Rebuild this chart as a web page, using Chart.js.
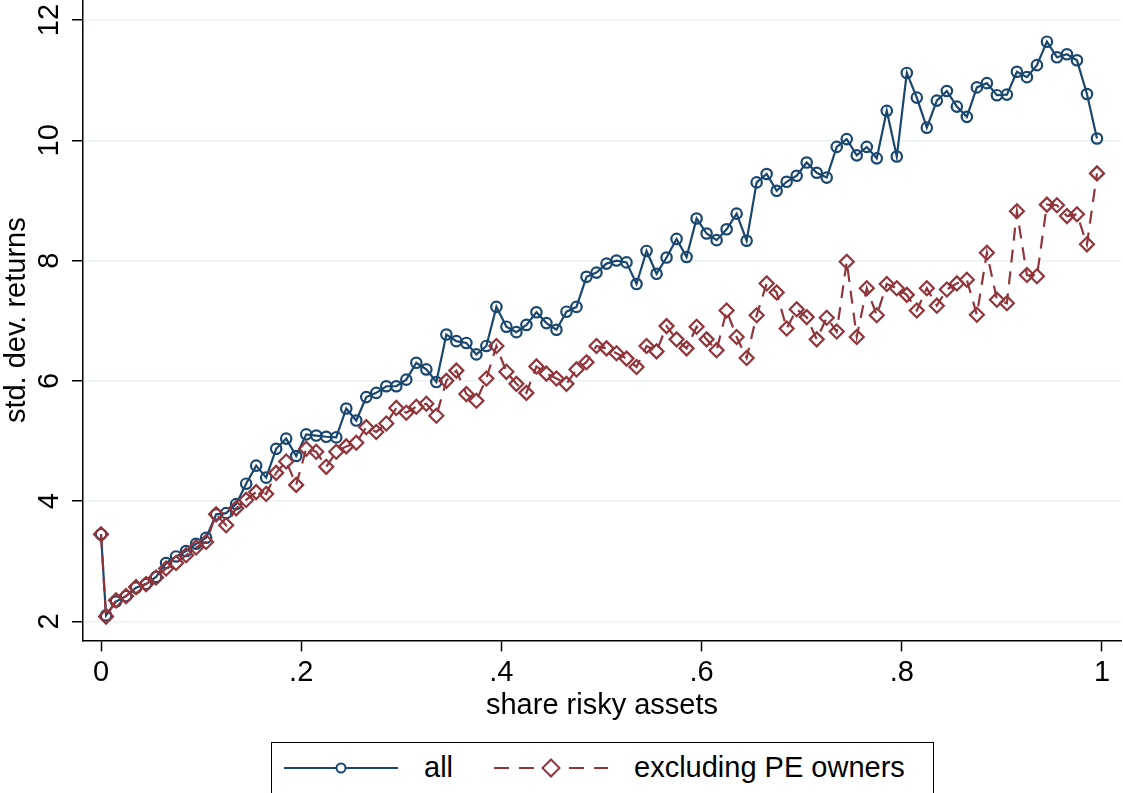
<!DOCTYPE html>
<html>
<head>
<meta charset="utf-8">
<script src="https://cdn.jsdelivr.net/npm/chart.js@4"></script>
<style>
  body { margin: 0; background: #fff; }
  #wrap { position: relative; width: 1123px; height: 793px; }
  #legend {
    position: absolute; left: 271px; top: 742px; width: 663px; height: 60px;
    border: 1.5px solid #000; box-sizing: border-box; background: #fff;
    font-family: "Liberation Sans", Arial, sans-serif; font-size: 29px; color: #000;
  }
  #legend .item { position: absolute; top: 8px; display: flex; align-items: center; }
  #legend svg { display: block; }
</style>
</head>
<body>
<div id="wrap">
  <canvas id="sd-chart" width="1123" height="793"></canvas>
  <div id="legend">
    <div class="item" style="left:12px">
      <svg width="114" height="20"><line x1="0" y1="10" x2="114" y2="10" stroke="#1a476f" stroke-width="2.2"/><circle cx="57" cy="10" r="4.5" fill="#fff" stroke="#1a476f" stroke-width="2"/></svg>
      <span style="margin-left:26px">all</span>
    </div>
    <div class="item" style="left:222px">
      <svg width="114" height="20"><line x1="0" y1="10" x2="114" y2="10" stroke="#90353b" stroke-width="2.2" stroke-dasharray="15 10"/><rect x="51" y="4" width="12" height="12" fill="#fff" stroke="#90353b" stroke-width="2" transform="rotate(45 57 10)"/></svg>
      <span style="margin-left:26px">excluding PE owners</span>
    </div>
  </div>
</div>
<script>
// share of risky assets (x) - bins
const shareRisky = [0, 0.005, 0.015, 0.025, 0.035, 0.045, 0.055, 0.065, 0.075, 0.085, 0.095,
  0.105, 0.115, 0.125, 0.135, 0.145, 0.155, 0.165, 0.175, 0.185, 0.195,
  0.205, 0.215, 0.225, 0.235, 0.245, 0.255, 0.265, 0.275, 0.285, 0.295,
  0.305, 0.315, 0.325, 0.335, 0.345, 0.355, 0.365, 0.375, 0.385, 0.395,
  0.405, 0.415, 0.425, 0.435, 0.445, 0.455, 0.465, 0.475, 0.485, 0.495,
  0.505, 0.515, 0.525, 0.535, 0.545, 0.555, 0.565, 0.575, 0.585, 0.595,
  0.605, 0.615, 0.625, 0.635, 0.645, 0.655, 0.665, 0.675, 0.685, 0.695,
  0.705, 0.715, 0.725, 0.735, 0.745, 0.755, 0.765, 0.775, 0.785, 0.795,
  0.805, 0.815, 0.825, 0.835, 0.845, 0.855, 0.865, 0.875, 0.885, 0.895,
  0.905, 0.915, 0.925, 0.935, 0.945, 0.955, 0.965, 0.975, 0.985, 0.995];

// std. dev. of returns, all households
const sdAll = [3.45, 2.10, 2.33, 2.42, 2.56, 2.62, 2.74, 2.97, 3.08, 3.17, 3.29,
  3.39, 3.78, 3.80, 3.95, 4.29, 4.59, 4.39, 4.87, 5.04, 4.75,
  5.11, 5.09, 5.07, 5.06, 5.54, 5.34, 5.73, 5.80, 5.91, 5.91,
  6.02, 6.30, 6.19, 5.98, 6.77, 6.66, 6.63, 6.44, 6.58, 7.23,
  6.90, 6.81, 6.93, 7.14, 6.96, 6.85, 7.15, 7.23, 7.73, 7.80,
  7.95, 8.00, 7.97, 7.61, 8.16, 7.78, 8.05, 8.36, 8.06, 8.70,
  8.45, 8.34, 8.52, 8.78, 8.33, 9.30, 9.44, 9.16, 9.31, 9.41,
  9.63, 9.46, 9.38, 9.89, 10.02, 9.75, 9.89, 9.70, 10.49, 9.73,
  11.12, 10.71, 10.21, 10.66, 10.82, 10.56, 10.39, 10.88, 10.95, 10.75,
  10.76, 11.14, 11.05, 11.25, 11.64, 11.38, 11.43, 11.33, 10.77, 10.03];

// std. dev. of returns, excluding private equity owners
const sdExclPE = [3.45, 2.08, 2.35, 2.42, 2.57, 2.62, 2.73, 2.88, 2.97, 3.10, 3.23,
  3.32, 3.78, 3.60, 3.88, 4.02, 4.15, 4.12, 4.47, 4.66, 4.27,
  4.87, 4.82, 4.57, 4.82, 4.91, 4.97, 5.23, 5.15, 5.29, 5.55,
  5.47, 5.57, 5.62, 5.42, 6.00, 6.17, 5.78, 5.67, 6.04, 6.58,
  6.15, 5.95, 5.80, 6.24, 6.12, 6.04, 5.95, 6.19, 6.31, 6.58,
  6.54, 6.46, 6.37, 6.23, 6.58, 6.49, 6.91, 6.69, 6.54, 6.90,
  6.69, 6.51, 7.17, 6.73, 6.38, 7.09, 7.62, 7.47, 6.87, 7.19,
  7.06, 6.69, 7.05, 6.82, 7.98, 6.73, 7.54, 7.09, 7.61, 7.54,
  7.43, 7.17, 7.54, 7.25, 7.52, 7.62, 7.68, 7.10, 8.13, 7.35,
  7.29, 8.82, 7.76, 7.74, 8.93, 8.92, 8.74, 8.77, 8.27, 9.45];

const xTickValues = [0, 0.2, 0.4, 0.6, 0.8, 1];
const xTickLabels = ['0', '.2', '.4', '.6', '.8', '1'];
const yTickValues = [2, 4, 6, 8, 10, 12];

const NAVY = '#1a476f';
const MAROON = '#90353b';
const FONT = { family: '"Liberation Sans", Arial, sans-serif', size: 29 };

const toPoints = vals => shareRisky.map((x, i) => ({ x: x, y: vals[i] }));

new Chart(document.getElementById('sd-chart'), {
  type: 'line',
  data: {
    datasets: [{
      label: 'all',
      data: toPoints(sdAll),
      borderColor: NAVY,
      borderWidth: 2.2,
      pointStyle: 'circle',
      pointRadius: 5.2,
      pointBorderWidth: 2.2,
      pointBorderColor: NAVY,
      pointBackgroundColor: 'rgba(255,255,255,0)',
      tension: 0,
      order: 1
    }, {
      label: 'excluding PE owners',
      data: toPoints(sdExclPE),
      borderColor: MAROON,
      borderWidth: 2.2,
      borderDash: [13, 9],
      pointStyle: 'rectRot',
      pointRadius: 7,
      pointBorderWidth: 2.2,
      pointBorderColor: MAROON,
      pointBackgroundColor: 'rgba(255,255,255,0)',
      tension: 0,
      order: 0
    }]
  },
  options: {
    responsive: false,
    animation: false,
    layout: { autoPadding: false, padding: { top: 0, right: 2, bottom: 70, left: 0 } },
    plugins: { legend: { display: false }, tooltip: { enabled: false } },
    scales: {
      x: {
        type: 'linear',
        min: -0.018,
        max: 1.019,
        afterBuildTicks: s => { s.ticks = xTickValues.map(v => ({ value: v })); },
        afterFit: s => { s.paddingLeft = 0; s.paddingRight = 0; },
        ticks: {
          callback: (v, i) => xTickLabels[i],
          font: FONT, color: '#000', padding: 4,
          maxRotation: 0, autoSkip: false
        },
        grid: { drawOnChartArea: false, tickLength: 11, tickColor: '#000', tickWidth: 1.5 },
        border: { color: '#000', width: 1.5 },
        title: { display: true, text: 'share risky assets', font: FONT, color: '#000', padding: { top: -6, bottom: 0 } }
      },
      y: {
        min: 1.684,
        max: 12.333,
        afterBuildTicks: s => { s.ticks = yTickValues.map(v => ({ value: v })); },
        afterFit: s => { s.width = 83; s.paddingTop = 0; s.paddingBottom = 0; },
        ticks: {
          font: FONT, color: '#000', padding: 6,
          minRotation: 90, maxRotation: 90, crossAlign: 'center'
        },
        grid: { color: '#eaf2f3', lineWidth: 1.5, tickLength: 11, tickColor: '#000', tickWidth: 1.5 },
        border: { color: '#000', width: 1.5 },
        title: { display: true, text: 'std. dev. returns', font: FONT, color: '#000', padding: { top: 0, bottom: 0 } }
      }
    }
  }
});
</script>
</body>
</html>
